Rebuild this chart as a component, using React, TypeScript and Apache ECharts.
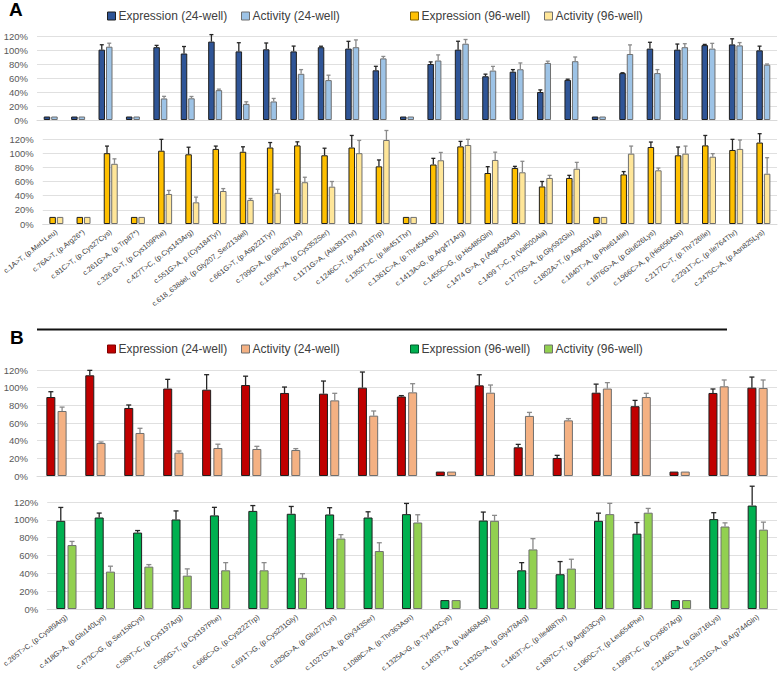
import React, { useEffect, useRef } from "react";
import * as echarts from "echarts";

const catsA = [
  "c.1A>T, (p.Met1Leu)", "c.76A>T, (p.Arg26*)", "c.81C>T, (p.Cys27Cys)", "c.261G>A, (p.Trp87*)",
  "c.326 G>T, (p.Cys109Phe)", "c.427T>C, (p.Cys143Arg)", "c.551G>A, p.(Cys184Tyr)",
  "c.618_638del, (p.Gly207_Ser213del)", "c.661G>T, (p.Asp221Tyr)", "c.799G>A, (p.Glu267Lys)",
  "c.1054T>A, (p.Cys352Ser)", "c.1171G>A, (Ala391Thr)", "c.1246C>T, (p.Arg416Trp)",
  "c.1352T>C, (p.Ile451Thr)", "c.1361C>A, (p.Thr454Asn)", "c.1413A>G, (p.Arg471Arg)",
  "c.1455C>G, (p.His485Gln)", "c.1474 G>A, p.(Asp492Asn)", "c.1499 T>C, p.(Val500Ala)",
  "c.1775G>A, (p.Gly592Glu)", "c.1802A>T, (p.Asp601Val)", "c.1840T>A, (p.Phe614Ile)",
  "c.1876G>A, (p.Glu626Lys)", "c.1966C>A, p.(His656Asn)", "c.2177C>T, (p.Thr726Ile)",
  "c.2291T>C, (p.Ile764Thr)", "c.2475C>A, (p.Asn825Lys)",
];
const expA24 = [5, 5, 100.5, 5, 104, 95, 112, 98, 101, 98, 104, 102, 71, 5, 80, 100.5, 62.5, 69, 40, 57.3, 5, 67, 102, 100.5, 107, 108, 99.5];
const expA24Err = [0, 0, 7, 0, 2.6, 10, 10, 12.4, 9, 7.6, 1.4, 10.4, 5.7, 0, 3, 12, 3, 3, 3, 1, 0, 0.5, 9, 8, 1, 8, 6];
const actA24 = [5, 5, 104.7, 5, 30.8, 31, 42.7, 23, 26.5, 66, 57, 104, 88, 5, 85, 109, 70.6, 72.5, 81.5, 84, 5, 94.3, 67, 104, 102, 106.6, 79];
const actA24Err = [0, 0, 5, 0, 3, 2.6, 1.4, 3, 4.3, 6, 7, 10.4, 2.8, 0, 8, 6, 6, 9, 2.5, 6, 0, 13, 5, 5, 7.5, 4, 1];
const expA96 = [10, 10, 100, 10, 103.5, 98.4, 106, 102, 108, 111, 97, 108, 81.4, 10, 84, 109.6, 72, 79, 53, 65, 10, 70, 108.7, 97, 111, 104.5, 115];
const expA96Err = [0, 0, 10, 0, 16, 10, 4, 7, 7, 5, 10, 17, 9, 0, 8.7, 7, 9, 2.4, 7, 3.7, 0, 4, 7, 11.7, 14, 15, 12.5];
const actA96 = [10, 10, 85, 10, 42.4, 30.6, 46.6, 34, 44, 59, 52.7, 100, 118.6, 10, 90, 111.5, 90.4, 73, 65, 78, 10, 99.3, 75.8, 99.3, 95, 106, 71];
const actA96Err = [0, 0, 7, 0, 5, 7.4, 3.4, 2, 5, 7, 7.3, 18, 13.4, 0, 11, 8, 11, 15.5, 3.7, 9, 0, 10.7, 3.2, 10.7, 4.3, 12.6, 22.6];

const catsB = [
  "c.265T>C, (p.Cys89Arg)", "c.418G>A, (p.Glu140Lys)", "c.473C>G, (p.Ser158Cys)",
  "c.589T>C, (p.Cys197Arg)", "c.590G>T, (p.Cys197Phe)", "c.666C>G, (p.Cys222Trp)",
  "c.691T>G, (p.Cys231Gly)", "c.829G>A, (p.Glu277Lys)", "c.1027G>A, (p.Gly343Ser)",
  "c.1088C>A, (p.Thr363Asn)", "c.1325A>G, (p.Tyr442Cys)", "c.1403T>A, (p.Val468Asp)",
  "c.1432G>A, (p.Gly478Arg)", "c.1463T>C, (p.Ile488Thr)", "c.1897C>T, (p.Arg633Cys)",
  "c.1960C>T, (p.Leu654Phe)", "c.1999T>C, (p.Cys667Arg)", "c.2146G>A, (p.Glu716Lys)",
  "c.2231G>A, (p.Arg744Gln)",
];
const expB24 = [89.4, 114, 77, 99, 97.7, 103, 94, 93.2, 100, 90, 5, 102.6, 32.5, 20.4, 94.3, 79, 5, 94, 100];
const expB24Err = [6, 5.6, 3.4, 10.4, 17, 10, 6.7, 14.3, 17.7, 1, 0, 12, 3.3, 3, 9.7, 6.6, 0, 4.5, 12];
const actB24 = [73.6, 37.4, 48.7, 26.4, 31.7, 30.6, 29.4, 85.6, 68.3, 94.7, 5, 94.3, 68, 63, 99, 89.4, 5, 101.5, 99.6];
const actB24Err = [4.4, 1.1, 5.3, 1.9, 4.3, 3, 1.6, 8, 5.3, 9.8, 0, 8.7, 4, 2, 6.7, 4.2, 0, 7.2, 9.1];
const expB96 = [98.9, 102.6, 85.7, 100.4, 105, 110, 106.8, 106, 102.6, 106.4, 10, 99.2, 43.4, 39, 98.9, 84.5, 10, 100.8, 116];
const expB96Err = [15, 5, 2.3, 9.6, 9, 6, 8.2, 7.6, 6.4, 12, 0, 9.5, 8.6, 14.2, 8.6, 12.5, 0, 7.2, 21.7];
const actB96 = [71.7, 41.9, 47.5, 37.4, 43.4, 43.4, 35, 79, 65, 97, 10, 98.9, 66.8, 45.3, 106.4, 108, 10, 92.5, 89];
const actB96Err = [4.1, 6.1, 2.3, 7.6, 8.6, 8.6, 4.6, 4.4, 9.3, 8.7, 0, 6.1, 12.1, 10.5, 12.1, 4.8, 0, 4.1, 8.4];

const FONT = "'Liberation Sans', Arial, sans-serif";
const EXP_BORDER = "#1f1f1f";
const ACT_BORDER = "#6f6f6f";
const EXP_ERR = "#262626";
const ACT_ERR = "#8a8a8a";

function barSeries(name: string, axis: number, data: number[], color: string, border: string, bw: number, gap: string) {
  return {
    type: "bar",
    name,
    xAxisIndex: axis,
    yAxisIndex: axis,
    data,
    barWidth: bw,
    barGap: gap,
    itemStyle: { color, borderColor: border, borderWidth: 1 },
    silent: true,
  };
}

function errSeries(axis: number, vals: number[], errs: number[], side: number, bw: number, gapRatio: number, color: string, capW: number) {
  return {
    type: "custom",
    xAxisIndex: axis,
    yAxisIndex: axis,
    clip: false,
    silent: true,
    z: 5,
    encode: { x: 0, y: 1 },
    data: vals.map((v, i) => [i, v, errs[i]]),
    renderItem: (params: any, api: any) => {
      const i = api.value(0);
      const v = api.value(1);
      const e = api.value(2);
      if (!e) return null;
      const p0 = api.coord([i, v]);
      const p1 = api.coord([i, v + e]);
      const x = p0[0] + (side * bw * (1 + gapRatio)) / 2;
      const style = { stroke: color, lineWidth: 1.3 };
      return {
        type: "group",
        children: [
          { type: "line", shape: { x1: x, y1: p0[1], x2: x, y2: p1[1] }, style },
          { type: "line", shape: { x1: x - capW / 2, y1: p1[1], x2: x + capW / 2, y2: p1[1] }, style },
        ],
      };
    },
  };
}

function legend(name: string, color: string, border: string, left: number, top: number) {
  return {
    left,
    top,
    padding: 0,
    icon: "rect",
    itemWidth: 8,
    itemHeight: 8,
    selectedMode: false,
    data: [{ name, itemStyle: { color, borderColor: border, borderWidth: 1 } }],
    textStyle: { fontSize: 12, color: "#404040", fontFamily: FONT, padding: [0, 0, 0, -2] },
  };
}

export default function App() {
  const ref = useRef<HTMLDivElement>(null);
  useEffect(() => {
    if (!ref.current) return;
    const chart = echarts.init(ref.current, undefined, { renderer: "svg" });
    const grids = [
      { left: 37, top: 36, width: 740, height: 84 },
      { left: 37, top: 139, width: 740, height: 85 },
      { left: 37, top: 370, width: 740, height: 106 },
      { left: 37, top: 502, width: 740, height: 107 },
    ];
    const xAxes = grids.map((_, k) => ({
      type: "category",
      gridIndex: k,
      data: k < 2 ? catsA : catsB,
      axisTick: { show: false },
      axisLine: { show: true, lineStyle: { color: "#d9d9d9", width: 1 } },
      axisLabel: {
        show: k === 1 || k === 3,
        interval: 0,
        rotate: 38,
        fontSize: 7.3,
        margin: 7,
        color: "#404040",
        fontFamily: FONT,
      },
    }));
    const yAxes = grids.map((_, k) => ({
      type: "value",
      gridIndex: k,
      min: 0,
      max: 120,
      interval: 20,
      axisLine: { show: false },
      axisTick: { show: false },
      splitLine: { lineStyle: { color: "#e0e0e0", width: 1 } },
      axisLabel: { formatter: "{value}%", fontSize: 9.5, color: "#595959", margin: 9, fontFamily: FONT },
    }));
    const bwA = 6.5, gA = 0.15, bwB = 9, gB = 0.25;
    const series: any[] = [
      barSeries("Expression (24-well)", 0, expA24, "#2F5597", EXP_BORDER, bwA, "15%"),
      barSeries("Activity (24-well)", 0, actA24, "#9DC3E6", ACT_BORDER, bwA, "15%"),
      barSeries("Expression (96-well)", 1, expA96, "#FFC000", EXP_BORDER, bwA, "15%"),
      barSeries("Activity (96-well)", 1, actA96, "#FFE699", ACT_BORDER, bwA, "15%"),
      barSeries("Expression (24-well)", 2, expB24, "#C00000", EXP_BORDER, bwB, "25%"),
      barSeries("Activity (24-well)", 2, actB24, "#F4B183", ACT_BORDER, bwB, "25%"),
      barSeries("Expression (96-well)", 3, expB96, "#00B050", EXP_BORDER, bwB, "25%"),
      barSeries("Activity (96-well)", 3, actB96, "#92D050", ACT_BORDER, bwB, "25%"),
      errSeries(0, expA24, expA24Err, -1, bwA, gA, EXP_ERR, 4),
      errSeries(0, actA24, actA24Err, 1, bwA, gA, ACT_ERR, 4),
      errSeries(1, expA96, expA96Err, -1, bwA, gA, EXP_ERR, 4),
      errSeries(1, actA96, actA96Err, 1, bwA, gA, ACT_ERR, 4),
      errSeries(2, expB24, expB24Err, -1, bwB, gB, EXP_ERR, 5),
      errSeries(2, actB24, actB24Err, 1, bwB, gB, ACT_ERR, 5),
      errSeries(3, expB96, expB96Err, -1, bwB, gB, EXP_ERR, 5),
      errSeries(3, actB96, actB96Err, 1, bwB, gB, ACT_ERR, 5),
    ];
    chart.setOption({
      animation: false,
      backgroundColor: "#ffffff",
      grid: grids,
      xAxis: xAxes,
      yAxis: yAxes,
      legend: [
        legend("Expression (24-well)", "#2F5597", EXP_BORDER, 107, 10),
        legend("Activity (24-well)", "#9DC3E6", ACT_BORDER, 241, 10),
        legend("Expression (96-well)", "#FFC000", "#7f6000", 410, 10),
        legend("Activity (96-well)", "#FFE699", ACT_BORDER, 544, 10),
        legend("Expression (24-well)", "#C00000", "#7f0000", 107, 343),
        legend("Activity (24-well)", "#F4B183", ACT_BORDER, 241, 343),
        legend("Expression (96-well)", "#00B050", "#005a2a", 410, 343),
        legend("Activity (96-well)", "#92D050", ACT_BORDER, 544, 343),
      ],
      graphic: [
        { type: "text", left: 9, top: 0, style: { text: "A", font: "bold 19px Arial, 'Liberation Sans', sans-serif", fill: "#000" } },
        { type: "text", left: 10, top: 328, style: { text: "B", font: "bold 19px Arial, 'Liberation Sans', sans-serif", fill: "#000" } },
        { type: "line", shape: { x1: 37, y1: 329.5, x2: 727, y2: 329.5 }, style: { stroke: "#111", lineWidth: 2 } },
      ],
      series,
    });
    return () => chart.dispose();
  }, []);
  return <div ref={ref} style={{ position: "fixed", left: 0, top: 0, width: 778, height: 683, background: "#fff" }} />;
}
